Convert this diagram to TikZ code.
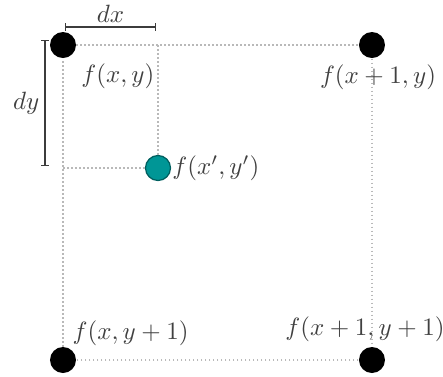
\documentclass[tikz,border=0pt]{standalone}
\usepackage{amsmath}
\usetikzlibrary{arrows.meta, positioning, calc}
\definecolor{tealdot}{RGB}{0, 150, 150}
\definecolor{tealedge}{RGB}{0, 95, 95}
\definecolor{gridgray}{RGB}{185, 185, 185}
\definecolor{measgray}{RGB}{60, 60, 60}

\begin{document}
\begin{tikzpicture}[x=0.4pt, y=-0.4pt, font=\normalsize,
  dot/.style={circle, fill=black, minimum size=10.4pt, inner sep=0pt},
  tdot/.style={circle, fill=tealdot, draw=tealedge, line width=0.5pt, minimum size=10pt, inner sep=0pt},
  gridline/.style={gridgray, densely dotted, line width=0.6pt},
  measure/.style={measgray, line width=0.5pt, {Bar[width=3pt]}-{Bar[width=3pt]}},
  flabel/.style={text=black!75}]
  \useasboundingbox (0,0) rectangle (443,376);

  % ---- grid points ----
  \node[dot] (tl) at (63, 45) {};
  \node[dot] (tr) at (372, 45) {};
  \node[dot] (bl) at (63, 360) {};
  \node[dot] (br) at (372, 360) {};
  \node[tdot] (tp) at (158, 168) {};

  % ---- dotted cell ----
  \draw[gridline] (tl) -- (tr) -- (br) -- (bl) -- (tl);
  \draw[gridline] (tp) -- (tp |- tl);
  \draw[gridline] (tp) -- (tp -| tl);

  % ---- dx / dy ----
  \coordinate (dxa) at (65, 27);
  \coordinate (dxb) at (156, 27);
  \coordinate (dya) at (45, 40);
  \coordinate (dyb) at (45, 166);
  \draw[measure] (dxa) -- (dxb) node[midway, above, inner sep=1.5pt, flabel] (dxl) {$dx$};
  \draw[measure] (dya) -- (dyb) node[midway, left, inner sep=2pt, flabel] (dyl) {$dy$};

  % ---- labels ----
  \node[flabel, below right=0pt and 0pt of tl] (ftl) {$f(x,y)$};
  \node[flabel, below=-1pt of tr, xshift=2.4pt] (ftr) {$f(x+1,y)$};
  \node[flabel, right=-3pt of tp] (ftp) {$f(x',y')$};
  \node[flabel, above right=-1.5pt and -3.5pt of bl] (fbl) {$f(x,y+1)$};
  \node[flabel, above=-1.5pt of br, xshift=-2.8pt] (fbr) {$f(x+1,y+1)$};
\end{tikzpicture}
\end{document}
